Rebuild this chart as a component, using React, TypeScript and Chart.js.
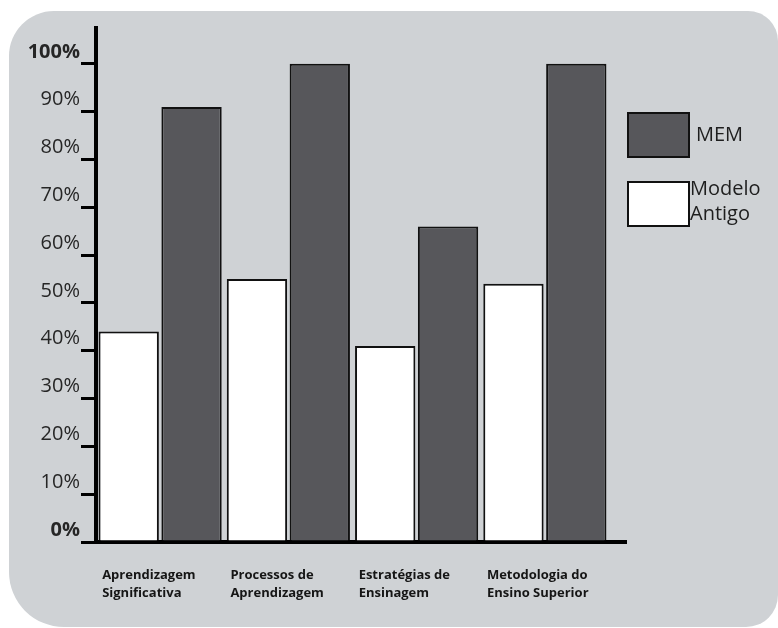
import React, { useEffect, useRef } from "react";
import { Chart, registerables } from "chart.js";

Chart.register(...registerables);

const categories: string[][] = [
  ["Aprendizagem", "Significativa"],
  ["Processos de", "Aprendizagem"],
  ["Estratégias de", "Ensinagem"],
  ["Metodologia do", "Ensino Superior"],
];
const modeloAntigo = [44, 55, 41, 54];
const mem = [91, 100, 66, 100];
const seriesNames = ["Modelo Antigo", "MEM"];

const DARK = "#57575b";
const FONT = "'Open Sans', 'DejaVu Sans', sans-serif";

const axisExtend = {
  id: "axisExtend",
  afterDraw(chart: any) {
    const { ctx, chartArea } = chart;
    ctx.save();
    ctx.strokeStyle = "#000";
    ctx.lineWidth = 4;
    ctx.beginPath();
    ctx.moveTo(chartArea.right - 2, chartArea.bottom);
    ctx.lineTo(chartArea.right + 18, chartArea.bottom);
    ctx.stroke();
    ctx.restore();
  },
};

export default function App() {
  const ref = useRef<HTMLCanvasElement | null>(null);

  useEffect(() => {
    if (!ref.current) return;
    const chart = new Chart(ref.current, {
      type: "bar",
      data: {
        labels: categories,
        datasets: [
          {
            label: seriesNames[0],
            data: modeloAntigo,
            backgroundColor: "#ffffff",
            borderColor: "#111",
            borderWidth: 2,
          },
          {
            label: seriesNames[1],
            data: mem,
            backgroundColor: DARK,
            borderColor: "#111",
            borderWidth: 2,
          },
        ],
      },
      options: {
        animation: false,
        responsive: false,
        maintainAspectRatio: false,
        layout: { padding: { left: 0, right: 169, top: 28, bottom: 0 } },
        plugins: {
          legend: { display: false },
          tooltip: { enabled: false },
        },
        datasets: {
          bar: { categoryPercentage: 0.98, barPercentage: 0.96 },
        },
        scales: {
          x: {
            grid: { display: false, drawTicks: false },
            border: { display: true, color: "#000", width: 4 },
            afterFit: (scale: any) => {
              scale.height = 86;
            },
            ticks: {
              autoSkip: false,
              maxRotation: 0,
              minRotation: 0,
              align: "start",
              labelOffset: -58,
              padding: 24,
              color: "#151515",
              font: { family: FONT, size: 13, weight: "bold", lineHeight: 1.4 },
            },
          },
          y: {
            min: 0,
            max: 107.5,
            afterFit: (scale: any) => {
              scale.width = 96;
            },
            grid: {
              drawOnChartArea: false,
              drawTicks: true,
              tickLength: 15,
              lineWidth: 3,
              color: "#000",
            },
            border: { display: true, color: "#000", width: 4 },
            ticks: {
              stepSize: 10,
              includeBounds: false,
              labelOffset: -12,
              padding: 1,
              color: "#262626",
              callback: (v: any) => `${v}%`,
              font: (ctx: any) => {
                const val = ctx.tick ? ctx.tick.value : -1;
                const bold = val === 0 || val === 100;
                return { family: FONT, size: 20, weight: bold ? "bold" : "normal" };
              },
            },
          },
        },
      },
      plugins: [axisExtend],
    });
    return () => chart.destroy();
  }, []);

  const legendBox: React.CSSProperties = {
    position: "absolute",
    left: 627,
    width: 59,
    height: 42,
    border: "2px solid #111",
  };
  const legendText: React.CSSProperties = {
    position: "absolute",
    fontFamily: FONT,
    fontSize: 20,
    color: "#1e1e1e",
    lineHeight: "25px",
  };

  return (
    <div style={{ position: "fixed", left: 0, top: 0, width: 778, height: 628, background: "#fff", overflow: "hidden" }}>
      <div
        style={{
          position: "absolute",
          left: 9,
          top: 11,
          width: 769,
          height: 616,
          background: "#cfd2d5",
          borderRadius: "45px 30px 32px 55px",
        }}
      />
      <canvas ref={ref} width={778} height={628} style={{ position: "absolute", left: 0, top: 0, width: 778, height: 628 }} />
      <div style={{ ...legendBox, top: 112, background: DARK }} />
      <div style={{ ...legendText, left: 696, top: 121 }}>{seriesNames[1]}</div>
      <div style={{ ...legendBox, top: 181, background: "#fff" }} />
      <div style={{ ...legendText, left: 690, top: 175 }}>
        Modelo
        <br />
        Antigo
      </div>
    </div>
  );
}
